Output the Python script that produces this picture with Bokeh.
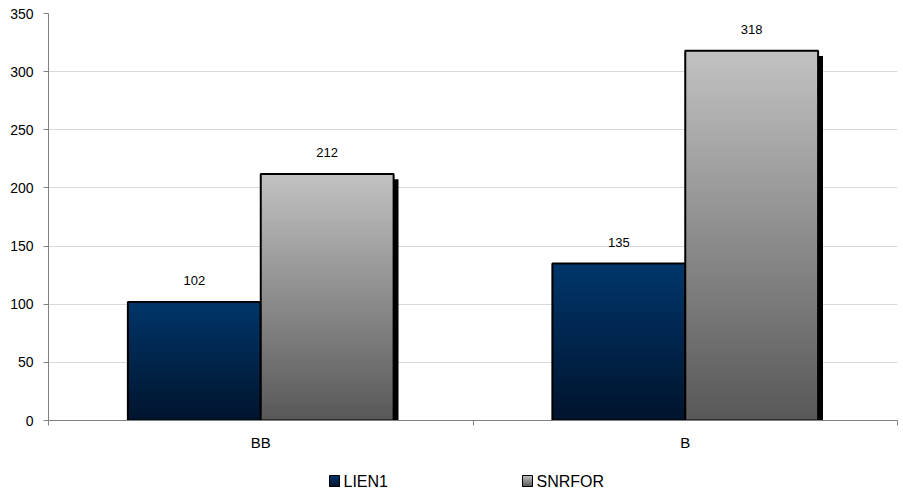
import numpy as np
from bokeh.plotting import figure
from bokeh.layouts import column
from bokeh.core.properties import value
from bokeh.models import ColumnDataSource, FixedTicker, Range1d, LabelSet
from bokeh.embed import file_html
from bokeh.resources import INLINE

# ---- data ----
categories = ["BB", "B"]
series_names = ["LIEN1", "SNRFOR"]
lien1 = [102, 135]
snrfor = [212, 318]
y_ticks = [0, 50, 100, 150, 200, 250, 300, 350]

series_values = [lien1, snrfor]

# ---- styles ----
grad_top = [(0, 54, 107), (194, 194, 194)]
grad_bottom = [(0, 20, 45), (88, 88, 88)]
FONT = "Liberation Sans"
bar_width = 0.313
n_slices = 90
shadow_dx = 0.0115
shadow_dy = 4.5
FRAME_L, FRAME_R = 48, 897

p = figure(width=903, height=455, x_range=Range1d(0, 2), y_range=Range1d(0, 350),
           output_backend="svg", toolbar_location=None,
           min_border_left=FRAME_L, min_border_right=903 - FRAME_R, min_border_top=13,
           min_border_bottom=35)
p.outline_line_color = None
p.background_fill_color = "white"
p.border_fill_color = "white"
p.xgrid.visible = False
p.ygrid.grid_line_color = "#d9d9d9"
p.ygrid.grid_line_width = 1

# y axis
p.yaxis.ticker = FixedTicker(ticks=y_ticks)
p.yaxis.major_tick_in = 0
p.yaxis.major_tick_out = 5
p.yaxis.minor_tick_in = 0
p.yaxis.minor_tick_out = 0
p.yaxis.axis_line_color = "#808080"
p.yaxis.major_tick_line_color = "#808080"
p.yaxis.major_label_text_font = FONT
p.yaxis.major_label_text_font_size = "14px"
p.yaxis.major_label_text_color = "black"
p.yaxis.major_label_standoff = 10

# x axis: labels at category centres, ticks at category boundaries
centers = [i + 0.5 for i in range(len(categories))]
bounds = [float(i) for i in range(len(categories) + 1)]
p.xaxis.ticker = FixedTicker(ticks=centers, minor_ticks=bounds)
p.xaxis.major_label_overrides = {c: lab for c, lab in zip(centers, categories)}
p.xaxis.major_tick_in = 0
p.xaxis.major_tick_out = 0
p.xaxis.minor_tick_in = 0
p.xaxis.minor_tick_out = 5
p.xaxis.minor_tick_line_color = "#808080"
p.xaxis.axis_line_color = "#808080"
p.xaxis.major_label_text_font = FONT
p.xaxis.major_label_text_font_size = "15px"
p.xaxis.major_label_text_color = "black"
p.xaxis.major_label_standoff = 8

offsets = [-bar_width / 2, bar_width / 2]

def lerp(c0, c1, t):
    return "#%02x%02x%02x" % tuple(int(round(a + (b - a) * t)) for a, b in zip(c0, c1))

for s, (name, vals) in enumerate(zip(series_names, series_values)):
    xs = [c + offsets[s] for c in centers]
    # shadow
    p.quad(left=[x - bar_width / 2 + shadow_dx for x in xs],
           right=[x + bar_width / 2 + shadow_dx for x in xs],
           bottom=[0] * len(vals), top=[v - shadow_dy for v in vals],
           fill_color="black", line_color=None)
    # gradient: nested slices drawn from tallest (lightest) to shortest (darkest)
    L, R, B, T, C = [], [], [], [], []
    for x, v in zip(xs, vals):
        for k in range(n_slices, 0, -1):
            t = (k - 0.5) / n_slices
            L.append(x - bar_width / 2)
            R.append(x + bar_width / 2)
            B.append(0)
            T.append(v * k / n_slices)
            C.append(lerp(grad_bottom[s], grad_top[s], t))
    src = ColumnDataSource(dict(left=L, right=R, bottom=B, top=T, color=C))
    p.quad(left="left", right="right", bottom="bottom", top="top", source=src,
           fill_color="color", line_color=None)
    # border
    p.quad(left=[x - bar_width / 2 for x in xs], right=[x + bar_width / 2 for x in xs],
           bottom=[0] * len(vals), top=vals, fill_alpha=0, line_color="black",
           line_width=2)
    # value labels
    lsrc = ColumnDataSource(dict(x=xs, y=vals, text=[str(v) for v in vals]))
    p.add_layout(LabelSet(x="x", y="y", text="text", source=lsrc, y_offset=17,
                          text_align="center", text_baseline="bottom",
                          text_font=value(FONT), text_font_size=value("13px"),
                          text_color="black"))

# ---- legend strip below (page-pixel coordinates, y downward) ----
LG_H = 38
lg = figure(width=903, height=LG_H, x_range=Range1d(FRAME_L, FRAME_R),
            y_range=Range1d(LG_H, 0),
            output_backend="svg", toolbar_location=None,
            x_axis_location=None, y_axis_location=None,
            min_border_left=FRAME_L, min_border_right=903 - FRAME_R, min_border_top=0,
            min_border_bottom=0)
lg.outline_line_color = None
lg.grid.visible = False
lg.border_fill_color = "white"

legend_x = [329, 522]   # left edge of each swatch
sw, sw_top, sw_bot = 10, 20, 31
n_sw = 12
for s, name in enumerate(series_names):
    x0 = legend_x[s]
    L, R, B, T, C = [], [], [], [], []
    for k in range(n_sw, 0, -1):
        t = (k - 0.5) / n_sw
        L.append(x0); R.append(x0 + sw)
        B.append(sw_bot); T.append(sw_bot - (sw_bot - sw_top) * k / n_sw)
        C.append(lerp(grad_bottom[s], grad_top[s], t))
    lg.quad(left=L, right=R, bottom=B, top=T, fill_color=C, line_color=None)
    lg.quad(left=[x0], right=[x0 + sw], bottom=[sw_bot], top=[sw_top],
            fill_alpha=0, line_color="black", line_width=1)
    lg.text(x=[x0 + sw + 4], y=[(sw_top + sw_bot) / 2 + 0.5], text=[name],
            text_font=value(FONT), text_font_size=value("16px"),
            text_baseline="middle", text_align="left", text_color="black")

open("out.html", "w").write(file_html(column(p, lg, spacing=0), INLINE))
